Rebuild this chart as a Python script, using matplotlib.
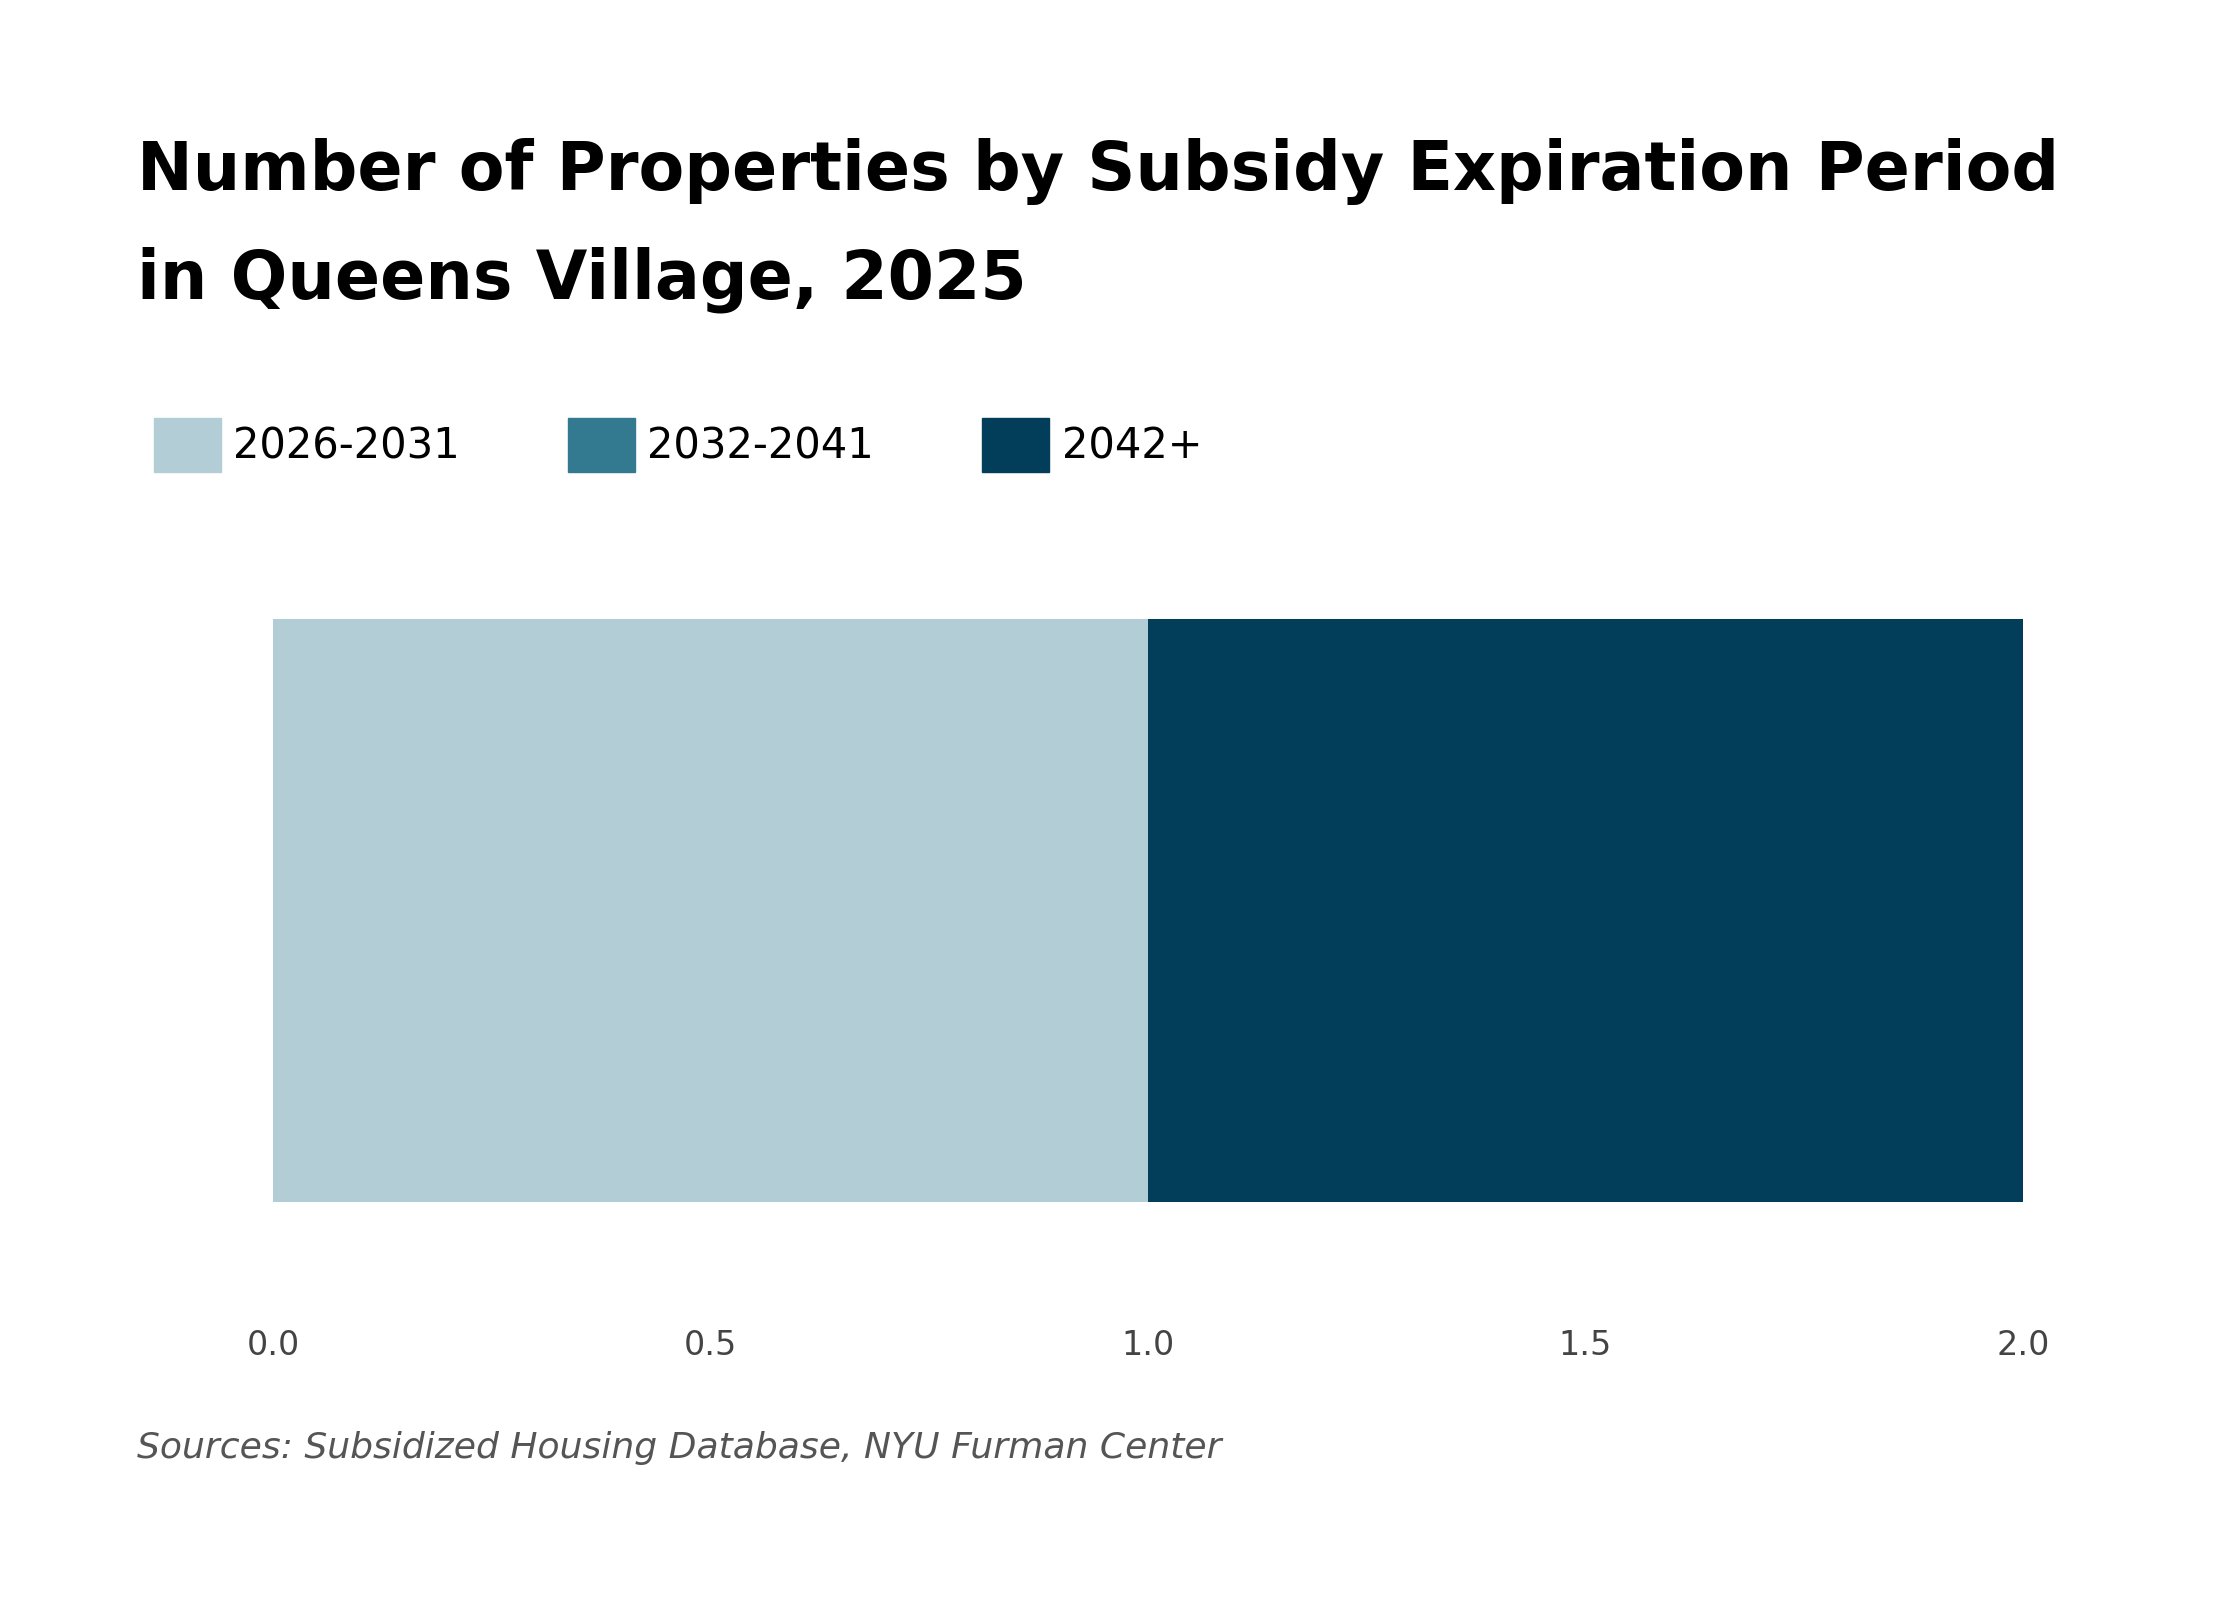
import matplotlib
matplotlib.use("Agg")
import matplotlib.pyplot as plt
from matplotlib.patches import Patch

categories = ["2026-2031", "2032-2041", "2042+"]
values = [1, 0, 1]
colors = ["#b3cdd6", "#337a91", "#023e59"]
ticks = [0.0, 0.5, 1.0, 1.5, 2.0]

fig = plt.figure(figsize=(22.4, 16), dpi=100)
ax = fig.add_axes([0.122, 0.249, 0.781, 0.364])
left = 0
for c, v, col in zip(categories, values, colors):
    ax.barh([0], [v], left=left, color=col, height=1.0)
    left += v
ax.set_xlim(0, 2)
ax.set_ylim(-0.5, 0.5)
ax.set_yticks([])
ax.set_xticks(ticks)
ax.set_xticklabels([f"{t:.1f}" for t in ticks], fontsize=24, color="#444444")
ax.tick_params(axis="x", length=0, pad=92)
for s in ax.spines.values():
    s.set_visible(False)

fig.text(0.061, 0.893, "Number of Properties by Subsidy Expiration Period", fontsize=48, fontweight="bold", va="center")
fig.text(0.061, 0.825, "in Queens Village, 2025", fontsize=48, fontweight="bold", va="center")

handles = [Patch(color=c) for c in colors]
fig.legend(handles, categories, loc="center left", bbox_to_anchor=(0.052, 0.722), ncol=3,
           frameon=False, fontsize=30, handlelength=1.6, handleheight=1.6,
           columnspacing=2.6, handletextpad=0.3)

fig.text(0.061, 0.095, "Sources: Subsidized Housing Database, NYU Furman Center", fontsize=26,
         style="italic", color="#555555", va="center")
fig.savefig("out.png", dpi=100, facecolor="white")
